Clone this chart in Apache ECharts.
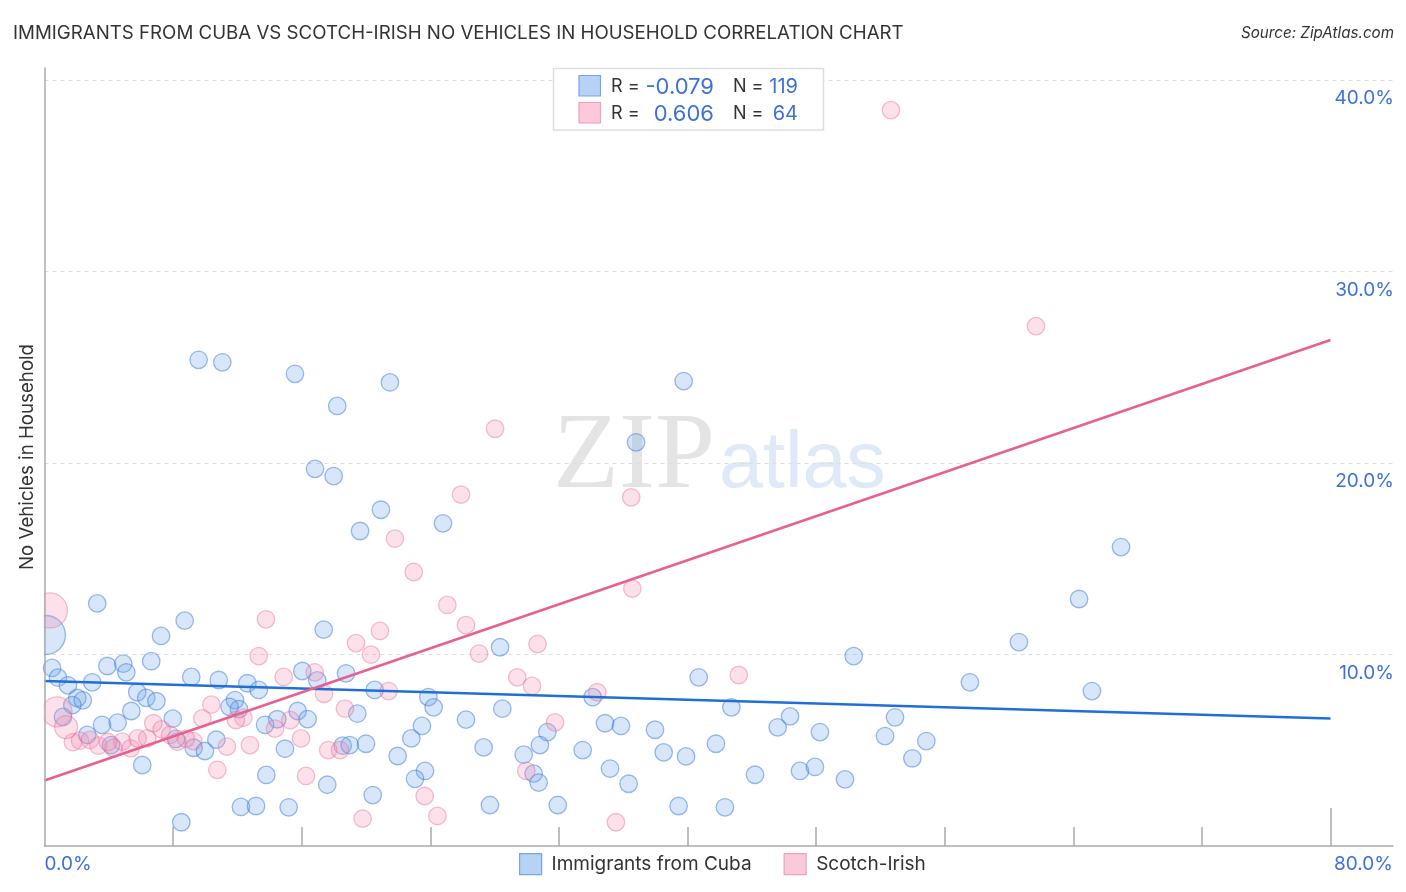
<!DOCTYPE html>
<html>
<head>
<meta charset="utf-8">
<style>
  html, body { margin: 0; padding: 0; background: #fff; }
  #main { width: 1406px; height: 892px; }
</style>
<script src="https://cdn.jsdelivr.net/npm/echarts@6/dist/echarts.min.js"></script>
</head>
<body>
<div id="main"></div>
<script>
// x = % immigrants from Cuba / Scotch-Irish, y = % no vehicles in household
var cubaPoints = [
  [9.59,25.39],[11.06,25.26],[15.58,24.66],[21.49,24.21],[18.21,22.98],[16.83,19.70],[17.99,19.32],[20.93,17.56],
  [19.63,16.45],[24.79,16.85],[3.28,12.67],[8.72,11.77],[7.25,10.97],[17.37,11.30],[36.80,21.08],[39.76,24.28],
  [28.34,10.38],[66.97,15.61],[64.36,12.90],[60.62,10.65],[50.34,9.92],[40.70,8.81],[57.57,8.55],[65.16,8.09],
  [42.73,7.24],[46.38,6.77],[45.61,6.20],[52.91,6.72],[52.29,5.74],[54.86,5.48],[48.24,5.95],[41.77,5.34],
  [53.99,4.58],[44.20,3.72],[47.00,3.92],[47.93,4.13],[49.80,3.48],[42.33,2.02],[23.88,7.78],[24.21,7.24],
  [34.10,7.77],[28.48,7.17],[26.22,6.60],[23.48,6.27],[34.87,6.41],[35.86,6.27],[37.98,6.07],[31.28,5.95],
  [30.82,5.27],[27.32,5.15],[29.81,4.77],[33.48,5.01],[38.52,4.89],[39.91,4.68],[35.18,4.04],[36.34,3.25],
  [30.43,3.78],[30.74,3.31],[23.67,3.92],[23.05,3.51],[27.71,2.14],[31.93,2.14],[39.45,2.09],[16.04,9.14],
  [16.97,8.65],[18.76,9.02],[12.62,8.50],[13.33,8.15],[20.54,8.15],[11.85,7.62],[12.10,7.15],[11.51,7.27],
  [15.75,7.05],[16.37,6.63],[19.46,6.91],[14.48,6.62],[13.72,6.33],[14.96,5.08],[18.55,5.24],[18.99,5.27],
  [20.00,5.34],[21.97,4.70],[22.82,5.62],[13.80,3.71],[17.59,3.20],[20.42,2.66],[12.22,2.04],[13.16,2.09],
  [15.19,2.02],[0.47,9.30],[0.84,8.79],[1.46,8.39],[2.97,8.55],[3.91,9.40],[4.90,9.52],[5.09,9.07],
  [6.64,9.65],[9.13,8.83],[10.84,8.67],[5.77,8.03],[6.33,7.74],[6.96,7.56],[2.04,7.73],[2.38,7.61],
  [1.73,7.36],[1.15,6.74],[5.40,7.05],[4.55,6.44],[3.58,6.33],[7.98,6.65],[2.66,5.80],[4.14,5.27],
  [8.18,5.59],[9.28,5.13],[9.98,4.96],[10.69,5.55],[6.08,4.23],[8.51,1.24]
];
var cubaLarge = [[0.09,11.02]];

var scotchPoints = [
  [52.66,38.43],[61.68,27.15],[28.03,21.79],[36.50,18.21],[25.91,18.35],[21.80,16.05],[22.97,14.31],[36.57,13.44],
  [25.06,12.59],[13.78,11.84],[26.22,11.54],[20.87,11.23],[19.38,10.60],[27.03,10.05],[30.67,10.55],[13.33,9.92],
  [20.31,9.99],[29.41,8.81],[30.33,8.36],[34.39,8.03],[31.76,6.46],[29.97,3.92],[23.65,2.61],[24.44,1.57],
  [35.55,1.24],[43.19,8.93],[14.88,8.83],[16.81,9.07],[17.39,7.95],[21.41,8.09],[18.69,7.17],[12.37,6.70],
  [11.91,6.58],[14.34,6.13],[15.29,6.58],[15.96,5.62],[12.78,5.27],[11.35,5.19],[17.65,5.01],[18.38,5.01],
  [16.27,3.66],[19.79,1.43],[1.77,5.42],[2.21,5.50],[2.83,5.54],[3.35,5.24],[4.28,5.13],[4.84,5.45],
  [5.36,5.10],[5.80,5.62],[6.39,5.62],[6.77,6.41],[7.29,6.09],[7.81,5.80],[8.26,5.45],[9.26,5.48],
  [9.82,6.67],[10.38,7.38],[10.75,3.98],[8.80,5.61],[3.95,5.43]
];
var scotchHuge = [[0.34,12.30]];
var scotchLarge = [[0.78,7.00]];
var scotchMedium = [[1.34,6.21]];

var cubaTrend = [[0,8.62],[80,6.66]];
var scotchTrend = [[0,3.42],[80,26.42]];

var seriesNames = ['Immigrants from Cuba','Scotch-Irish'];
var rValues = ['-0.079','0.606'];
var nValues = ['119','64'];
var yTicks = [10,20,30,40];
var yTickLabels = ['10.0%','20.0%','30.0%','40.0%'];
var xMinorTicks = [8,16,24,32,40,48,56,64,72];
var xEndLabels = ['0.0%','80.0%'];

var xMax = 83.89, yMax = 40.63;
var blueText = '#3c72d8', darkText = '#333';
var uiFont = 'Inter, "Noto Sans", sans-serif';

var cubaStyle = {color:'rgba(110,165,235,0.35)', borderColor:'rgba(50,115,215,0.6)', borderWidth:1.3, opacity:0.8};
var scotchStyle = {color:'rgba(245,140,175,0.32)', borderColor:'rgba(232,110,155,0.55)', borderWidth:1.3, opacity:0.8};

function scatter(name, data, size, style){
  return {name:name, type:'scatter', data:data, symbolSize:size, itemStyle:style, silent:true, animation:false, z:3};
}
function trend(name, data, color){
  return {name:name, type:'line', data:data, symbol:'none', silent:true, animation:false, z:4,
    lineStyle:{color:color, width:2.6}};
}

// stat box rows at the top
function statRow(i, y, swatchFill, swatchBorder){
  return [
    {type:'rect', shape:{x:579,y:y-10.5,width:21.5,height:20.5}, style:{fill:swatchFill,stroke:swatchBorder,lineWidth:1.2}, z:11},
    {type:'text', x:611, y:y+1, style:{text:'R =', fill:darkText, font:'18px '+uiFont, verticalAlign:'middle'}, z:11},
    {type:'text', x:714, y:y+1, style:{text:rValues[i], fill:blueText, font:'22px '+uiFont, align:'right', verticalAlign:'middle'}, z:11},
    {type:'text', x:733, y:y+1, style:{text:'N =', fill:darkText, font:'18px '+uiFont, verticalAlign:'middle'}, z:11},
    {type:'text', x:798, y:y+1, style:{text:nValues[i], fill:blueText, font:'20px '+uiFont, align:'right', verticalAlign:'middle'}, z:11}
  ];
}

var chart = echarts.init(document.getElementById('main'), null, {renderer:'canvas'});
var option = {
  backgroundColor:'#fff',
  animation:false,
  title:[
    {text:'IMMIGRANTS FROM CUBA VS SCOTCH-IRISH NO VEHICLES IN HOUSEHOLD CORRELATION CHART', left:8, top:19,
      textStyle:{color:darkText, fontSize:18.7, fontWeight:'normal', fontFamily:uiFont}},
    {text:'Source: ZipAtlas.com', right:7, top:21,
      textStyle:{color:darkText, fontSize:15.2, fontWeight:'normal', fontStyle:'italic', fontFamily:uiFont}}
  ],
  legend:{
    left:514, top:848, itemWidth:22, itemHeight:21, itemGap:32, icon:'rect',
    textStyle:{color:darkText, fontSize:19, fontFamily:uiFont, padding:[0,0,0,5]},
    selectedMode:false,
    data:[
      {name:seriesNames[0], itemStyle:{color:'#b8d2f5', borderColor:'#76a5e4', borderWidth:1.2, opacity:1}},
      {name:seriesNames[1], itemStyle:{color:'#fbc9da', borderColor:'#f0a0bc', borderWidth:1.2, opacity:1}}
    ]
  },
  grid:{left:44.5, top:68, width:1348.5, height:778},
  xAxis:[
    {type:'value', min:0, max:xMax, position:'bottom', splitLine:{show:false},
      axisLine:{show:true, lineStyle:{color:'#aaa', width:1.5}},
      axisTick:{show:true, inside:true, length:19, customValues:xMinorTicks, lineStyle:{color:'#aaa', width:1.5}},
      axisLabel:{show:true, customValues:[0,xMax], alignMinLabel:'left', alignMaxLabel:'right', margin:9,
        color:blueText, fontSize:19, fontFamily:uiFont,
        formatter:function(v){ return v < 1 ? xEndLabels[0] : xEndLabels[1]; }}
    },
    // longer tick at 80%
    {type:'value', min:0, max:xMax, position:'bottom', splitLine:{show:false}, axisLine:{show:false},
      axisTick:{show:true, inside:true, length:38, customValues:[80], lineStyle:{color:'#aaa', width:1.5}},
      axisLabel:{show:false}}
  ],
  yAxis:[
    {type:'value', min:0, max:yMax, position:'left', z:6,
      name:'No Vehicles in Household', nameLocation:'middle', nameGap:8, nameRotate:90,
      nameTextStyle:{color:darkText, fontSize:18.7, fontFamily:uiFont},
      axisLine:{show:true, lineStyle:{color:'#aaa', width:1.5}}, axisTick:{show:false}, axisLabel:{show:false},
      splitLine:{show:false}
    },
    {type:'value', min:0, max:yMax, position:'right', axisLine:{show:false},
      axisTick:{show:false, customValues:yTicks},
      splitLine:{show:true, lineStyle:{color:'#ddd', type:[4,4], width:1}},
      axisLabel:{show:true, inside:true, margin:-1, customValues:yTicks, verticalAlign:'top', padding:[9,0,0,0],
        color:blueText, fontSize:19, fontFamily:uiFont,
        formatter:function(v){ return yTickLabels[yTicks.indexOf(v)]; }}
    }
  ],
  graphic:[
    {type:'text', x:553, y:513, z:0, silent:true, style:{text:'ZIP', fill:'#e4e4e4', font:'108px "Liberation Serif", serif', verticalAlign:'bottom'}},
    {type:'text', x:719, y:505, z:0, silent:true, style:{text:'atlas', fill:'#dfe9f8', font:'79px "Liberation Sans", sans-serif', verticalAlign:'bottom'}},
    // the plot clips the big bubbles at the y axis
    {type:'rect', z:5, silent:true, shape:{x:20,y:588,width:23.7,height:70}, style:{fill:'#fff'}},
    {type:'rect', z:5, silent:true, shape:{x:30,y:690,width:13.7,height:50}, style:{fill:'#fff'}},
    {type:'rect', z:10, shape:{x:553.5,y:68.5,width:270,height:61.5}, style:{fill:'#fff',stroke:'#ddd',lineWidth:1.5}}
  ].concat(statRow(0,86,'#b8d2f5','#76a5e4'), statRow(1,113,'#fbc9da','#f0a0bc')),
  series:[
    scatter(seriesNames[0], cubaPoints, 17.5, cubaStyle),
    scatter(seriesNames[0], cubaLarge, 39, cubaStyle),
    scatter(seriesNames[1], scotchPoints, 17.5, scotchStyle),
    scatter(seriesNames[1], scotchHuge, 35, scotchStyle),
    scatter(seriesNames[1], scotchLarge, 30, scotchStyle),
    scatter(seriesNames[1], scotchMedium, 23, scotchStyle),
    trend('Cuba trend', cubaTrend, '#1f6fd6'),
    trend('Scotch-Irish trend', scotchTrend, '#e8608f')
  ]
};
chart.setOption(option);
</script>
</body>
</html>
